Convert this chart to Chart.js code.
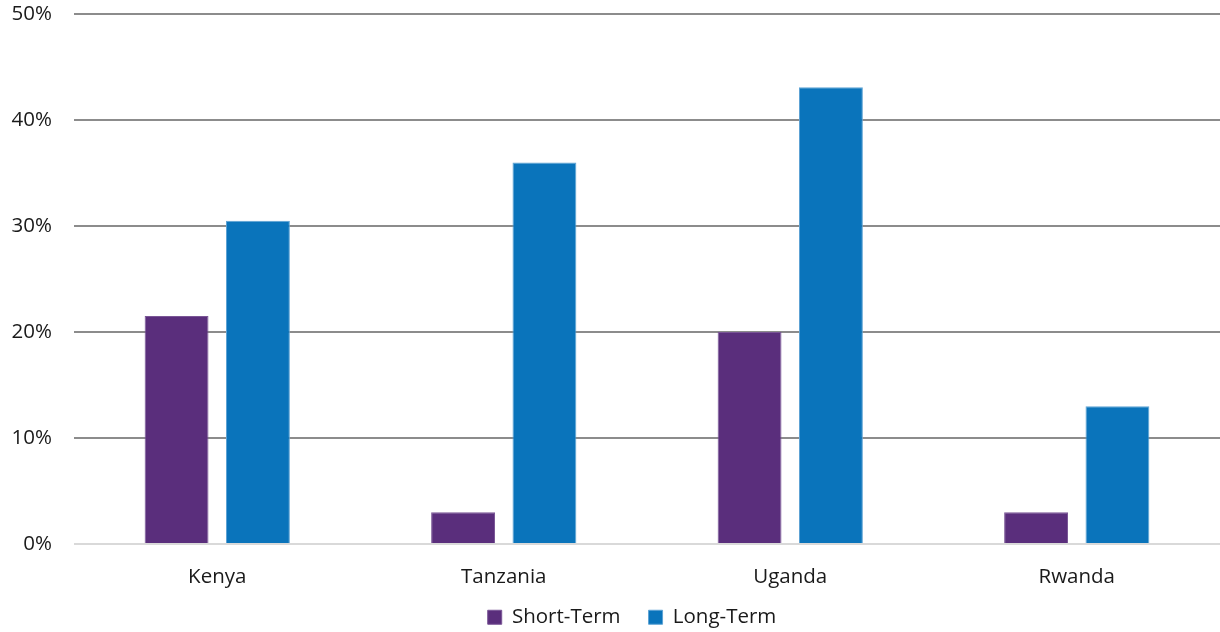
<!DOCTYPE html>
<html>
<head>
<meta charset="utf-8">
<script src="https://cdn.jsdelivr.net/npm/chart.js@4/dist/chart.umd.min.js"></script>
<style>
  html, body { margin: 0; padding: 0; background: #fff; }
  #wrap { width: 1220px; height: 632px; }
</style>
</head>
<body>
<div id="wrap"><canvas id="chart" width="1220" height="632"></canvas></div>
<script>
const countries = ['Kenya', 'Tanzania', 'Uganda', 'Rwanda'];
const shortTerm = [21.5, 3, 20, 3];
const longTerm = [30.5, 36, 43.1, 13];
const yTicks = [0, 10, 20, 30, 40, 50];

const ctx = document.getElementById('chart').getContext('2d');
Chart.defaults.font.family = '"Open Sans", sans-serif';
Chart.defaults.color = '#1a1a1a';

// legend: fixed height in the layout, then nudged to the reference position
const LEGEND_H = 40, LEGEND_DX = 22, LEGEND_DY = -13;
const legendFix = {
  id: 'legendFix',
  beforeLayout(chart) {
    const lg = chart.legend;
    if (lg && !lg._fixed) {
      const fit = lg.fit;
      lg.fit = function () { fit.call(this); this.height = LEGEND_H; };
      lg._fixed = true;
    }
  },
  beforeDraw(chart) {
    const lg = chart.legend;
    lg.left += LEGEND_DX; lg.right += LEGEND_DX;
    lg.top += LEGEND_DY;
  },
  afterDraw(chart) {
    const lg = chart.legend;
    lg.left -= LEGEND_DX; lg.right -= LEGEND_DX;
    lg.top -= LEGEND_DY;
  }
};

const chart = new Chart(ctx, {
  type: 'bar',
  data: {
    labels: countries,
    datasets: [
      { label: 'Short-Term', data: shortTerm, backgroundColor: '#5a2e7c', borderColor: '#7a5696', borderWidth: 1,
        barPercentage: 0.785, categoryPercentage: 0.568 },
      { label: 'Long-Term', data: longTerm, backgroundColor: '#0a74bb', borderColor: '#5ea3d4', borderWidth: 1,
        barPercentage: 0.785, categoryPercentage: 0.568 }
    ]
  },
  options: {
    responsive: false,
    animation: false,
    layout: { padding: { top: 14, right: 0, left: 0, bottom: 0 } },
    plugins: {
      tooltip: { enabled: false },
      legend: {
        position: 'bottom',
        labels: { boxWidth: 14, boxHeight: 14, padding: 28, font: { size: 20.5 }, color: '#1a1a1a' }
      }
    },
    scales: {
      x: {
        grid: { display: false, drawTicks: false },
        border: { display: false },
        ticks: { padding: 21, font: { size: 20.5 }, color: '#1a1a1a' },
        afterFit: (s) => { s.height = 48; }
      },
      y: {
        min: 0, max: 50,
        afterBuildTicks: (s) => { s.ticks = yTicks.map(v => ({ value: v })); },
        grid: {
          drawTicks: false,
          lineWidth: 2,
          color: (c) => c.tick && c.tick.value === 0 ? '#d9d9d9' : '#8c8c8c'
        },
        border: { display: false },
        ticks: { padding: 22, font: { size: 20.5 }, color: '#1a1a1a', callback: (v) => v + '%' },
        afterFit: (s) => { s.width = 74; s.paddingTop = 0; }
      }
    }
  },
  plugins: [legendFix]
});
</script>
</body>
</html>
